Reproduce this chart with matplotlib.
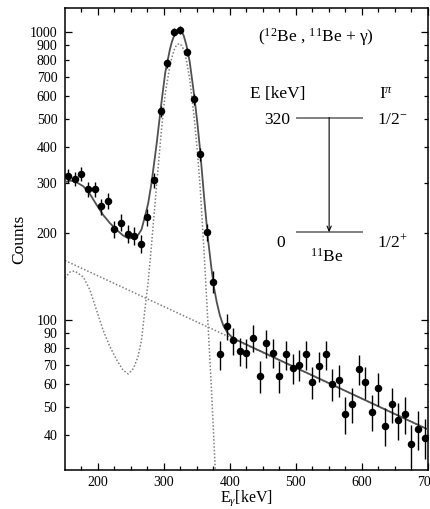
import numpy as np
import matplotlib
matplotlib.use('Agg')
import matplotlib.pyplot as plt

plt.rcParams['font.family'] = ['Liberation Serif', 'DejaVu Serif']
plt.rcParams['mathtext.fontset'] = 'custom'
plt.rcParams['mathtext.rm'] = 'Liberation Serif'
plt.rcParams['mathtext.it'] = 'Liberation Serif:italic'
plt.rcParams['mathtext.bf'] = 'Liberation Serif:bold'

# ---- measured spectrum ----
energy = [155, 165, 175, 185, 195, 205, 215, 225, 235, 245, 255, 265, 275, 285,
          295, 305, 315, 325, 335, 345, 355, 365, 375, 385, 395, 405, 415, 425,
          435, 445, 455, 465, 475, 485, 495, 505, 515, 525, 535, 545, 555, 565,
          575, 585, 595, 605, 615, 625, 635, 645, 655, 665, 675, 685, 695]
counts = [317, 310, 322, 285, 285, 248, 259, 207, 218, 199, 196, 184, 228, 306,
          531, 780, 1000, 1016, 854, 584, 377, 202, 136, 76, 95, 85, 78, 77,
          86.5, 64, 83, 77, 64, 76, 68, 70, 76, 61, 69, 76, 60, 62,
          47, 51, 67.5, 61, 48, 58, 43, 51, 45, 47, 37, 42, 39]
count_err = [17.8, 17.6, 17.9, 16.9, 16.9, 15.7, 16.1, 14.4, 14.8, 14.1, 14.0, 13.6, 15.1, 17.5,
             23.0, 27.9, 31.6, 31.9, 29.2, 24.2, 19.4, 14.2, 11.7, 8.7, 9.7, 9.2, 8.8, 8.8,
             9.3, 8.0, 9.1, 8.8, 8.0, 8.7, 8.2, 8.4, 8.7, 7.8, 8.3, 8.7, 7.7, 7.9,
             6.9, 7.1, 8.2, 7.8, 6.9, 7.6, 6.6, 7.1, 6.7, 6.9, 6.1, 6.5, 6.2]

# ---- exponential background (two end values) ----
bg_energy = [150, 700]
bg_counts = [161, 41.7]

# ---- detector response function (dotted curve) ----
resp_energy = [150, 158, 165, 178, 188, 198, 208, 218, 228, 238, 246, 254, 261, 266,
               271, 276, 281, 289, 296, 302, 309, 312, 316, 319, 323, 327, 330, 334,
               339, 344, 347, 351, 355, 361, 367, 372, 376, 380, 385, 390, 396, 402, 410]
resp_counts = [140, 147, 148, 141, 127, 108, 92, 81, 73, 67, 65, 68, 75, 85,
               108, 135, 180, 295, 450, 612, 760, 815, 872, 900, 912, 898, 868, 800,
               690, 550, 475, 378, 288, 170, 95, 58, 37, 24, 13, 6.5, 2.6, 1.0, 0.3]

x_major = [200, 300, 400, 500, 600, 700]
x_minor = [175, 225, 250, 275, 325, 350, 375, 425, 450, 475, 525, 550, 575, 625, 650, 675]
y_major = [100, 1000]
y_minor = [40, 50, 60, 70, 80, 90, 200, 300, 400, 500, 600, 700, 800, 900]


def background(e):
    return np.exp(np.interp(e, bg_energy, np.log(bg_counts)))


fig = plt.figure(figsize=(4.30, 5.09), dpi=100)
ax = fig.add_axes([0.151, 0.0766, 0.844, 0.9075])
ax.set_yscale('log')

dot_style = dict(color='#808080', lw=1.1, ls=(0, (1.0, 1.3)))
# background component
ax.plot(bg_energy, bg_counts, zorder=2, **dot_style)
# response component
ax.plot(resp_energy, resp_counts, zorder=2, **dot_style)
# total fit
fit_energy = np.array(resp_energy + [700], dtype=float)
fit_resp = np.array(resp_counts + [0.0])
ax.plot(fit_energy, background(fit_energy) + fit_resp, color='#505050', lw=1.3, zorder=3)

ax.errorbar(energy, counts, yerr=count_err, fmt='o', color='black', ms=4.4,
            elinewidth=1.0, capsize=0, zorder=5)

ax.set_xlim(150, 700)
ax.set_ylim(30.15, 1211)

ax.set_xticks(x_major)
ax.set_xticks(x_minor, minor=True)
ax.set_yticks(y_major, labels=[str(v) for v in y_major])
ax.set_yticks(y_minor, labels=[str(v) for v in y_minor], minor=True)

ax.tick_params(which='both', direction='in', top=True, right=True, width=0.9,
               labelsize=10)
ax.tick_params(which='major', length=5)
ax.tick_params(which='minor', length=3)
ax.tick_params(axis='x', which='both', pad=4)
ax.tick_params(axis='y', which='both', pad=5.5)
for s in ax.spines.values():
    s.set_linewidth(1.1)

ax.set_xlabel(r'E$_{\gamma}$[keV]', fontsize=11.5, labelpad=0)
ax.set_ylabel('Counts', fontsize=12.5, labelpad=2)

T = ax.transAxes
ax.text(0.691, 0.937, r'($^{12}$Be , $^{11}$Be + γ)', transform=T, ha='center',
        va='center', fontsize=12.5)
ax.text(0.510, 0.805, 'E [keV]', transform=T, ha='left', va='baseline', fontsize=12.5)
ax.text(0.866, 0.805, r'I$^{\pi}$', transform=T, ha='left', va='baseline', fontsize=12.5)
ax.text(0.620, 0.750, '320', transform=T, ha='right', va='baseline', fontsize=12.5)
ax.text(0.860, 0.750, r'1/2$^{-}$', transform=T, ha='left', va='baseline', fontsize=12.5)
ax.text(0.606, 0.483, '0', transform=T, ha='right', va='baseline', fontsize=12.5)
ax.text(0.860, 0.483, r'1/2$^{+}$', transform=T, ha='left', va='baseline', fontsize=12.5)
ax.text(0.675, 0.451, r'$^{11}$Be', transform=T, ha='left', va='baseline', fontsize=12.5)

ax.plot([0.639, 0.818], [0.763, 0.763], transform=T, color='#808080', lw=1.4)
ax.plot([0.639, 0.818], [0.5145, 0.5145], transform=T, color='#808080', lw=1.4)
ax.annotate('', xy=(0.728, 0.5145), xytext=(0.728, 0.763), xycoords='axes fraction',
            arrowprops=dict(arrowstyle='->,head_length=0.35,head_width=0.15',
                            color='black', lw=0.8, shrinkA=0, shrinkB=0))

fig.savefig('out.png', dpi=100)
